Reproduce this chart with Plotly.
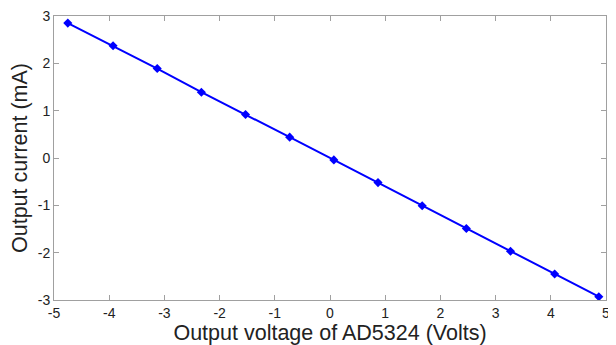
import plotly.graph_objects as go

voltage = [-4.75, -3.93, -3.13, -2.33, -1.53, -0.73, 0.07, 0.87, 1.67, 2.47, 3.27, 4.07, 4.87]
current = [2.85, 2.37, 1.89, 1.39, 0.92, 0.44, -0.04, -0.52, -1.01, -1.49, -1.97, -2.45, -2.93]
x_ticks = [-5, -4, -3, -2, -1, 0, 1, 2, 3, 4, 5]
y_ticks = [-3, -2, -1, 0, 1, 2, 3]

FONT = "Liberation Sans, Arial, sans-serif"

fig = go.Figure()
fig.add_trace(go.Scatter(
    x=voltage, y=current, mode="lines+markers",
    line=dict(color="#0000ff", width=2),
    marker=dict(symbol="diamond", size=7, color="#0000ff"),
    showlegend=False,
))

axis_common = dict(
    showgrid=False, zeroline=False, showline=True, linecolor="#a0a0a0", linewidth=1,
    mirror="ticks", ticks="inside", ticklen=5, tickcolor="#a0a0a0", automargin=False,
    ticklabeloverflow="allow",
    tickfont=dict(family=FONT, size=14, color="#222"),
)

# page body has an 8px margin, so the figure is offset by 8px
fig.update_layout(
    width=608, height=337,
    margin=dict(l=46, r=10, t=8, b=45),
    paper_bgcolor="white", plot_bgcolor="white",
    xaxis=dict(range=[-5, 5], tickvals=x_ticks, ticktext=[str(v) for v in x_ticks],
               title=dict(text="Output voltage of AD5324 (Volts)", standoff=0,
                          font=dict(family=FONT, size=21.5, color="#222")), **axis_common),
    yaxis=dict(range=[-3, 3], tickvals=y_ticks, ticktext=[str(v) for v in y_ticks],
               title=dict(text="Output current (mA)", standoff=4,
                          font=dict(family=FONT, size=21.5, color="#222")), **axis_common),
)

fig.write_html("out.html")
